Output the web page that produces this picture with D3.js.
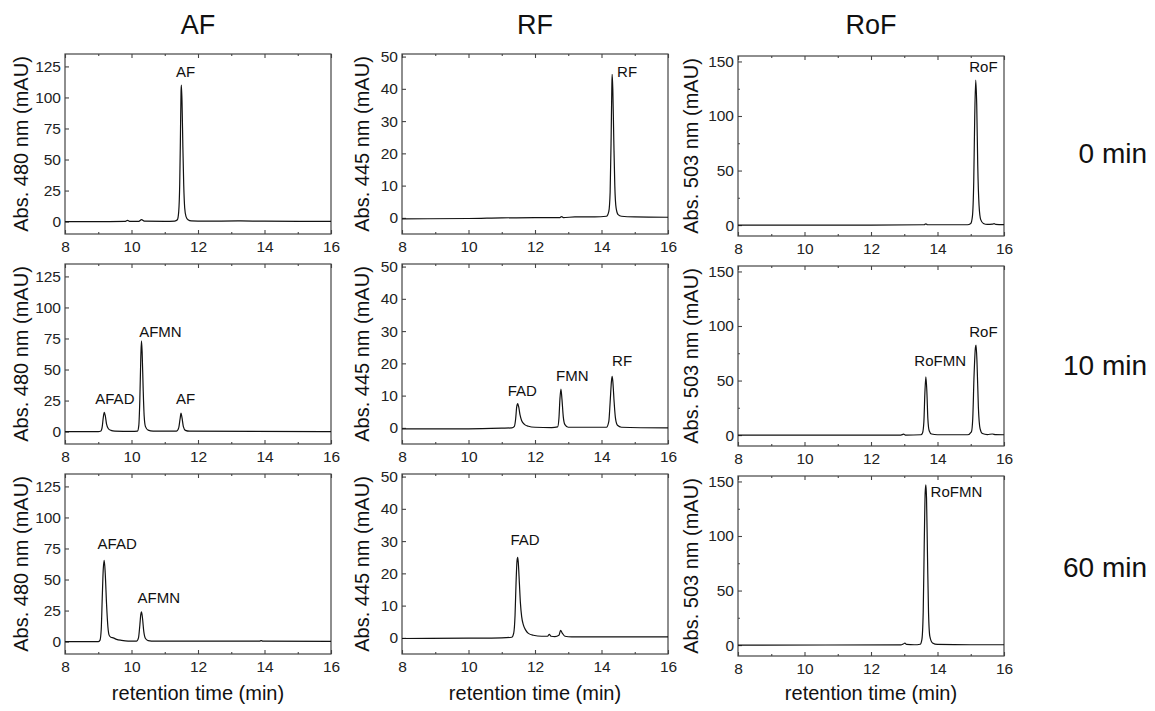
<!DOCTYPE html>
<meta charset="utf-8">
<style>
  body { margin: 0; background: #fff; }
  text { font-family: "Liberation Sans", Arial, sans-serif; fill: #111; }
  .tick line { stroke: #444; stroke-width: 1.1; }
  .tick text { font-size: 15.5px; fill: #222; }
</style>
<body>
<div id="chart"></div>
<script src="https://d3js.org/d3.v7.min.js"></script>
<script>
// column titles, row titles, y-axis titles
const columns = ["AF", "RF", "RoF"];
const rows = ["0 min", "10 min", "60 min"];
const yTitles = ["Abs. 480 nm (mAU)", "Abs. 445 nm (mAU)", "Abs. 503 nm (mAU)"];

// ticks
const xTicks = [8, 10, 12, 14, 16];
const xMinorTicks = [9, 11, 13, 15];
const afYTicks = [0, 25, 50, 75, 100, 125];
const rfYTicks = [0, 10, 20, 30, 40, 50];
const rofYTicks = [0, 50, 100, 150];
const rofYMinorTicks = [25, 75, 125];

// traces: [retention time (min), absorbance (mAU)]
const afTrace0 = [[8,0],[9,0],[9.8,0.1],[9.88,0.9],[9.96,0.1],[10.22,0.2],[10.3,1.6],[10.4,0.3],[11,0.2],[11.3,0.4],[11.38,1.5],[11.42,8],[11.45,30],[11.47,65],[11.49,105],[11.5,110],[11.52,96],[11.545,60],[11.57,30],[11.6,11],[11.64,4],[11.7,1.5],[11.8,0.6],[12.2,0.4],[13.2,0.5],[14,0.3],[16,0.2]];
const afTrace1 = [[8,0],[9,0],[9.08,0.5],[9.12,4],[9.15,11],[9.18,15.5],[9.21,13],[9.25,6],[9.3,2.5],[9.38,1],[9.5,0.4],[10,0.2],[10.18,0.4],[10.22,5],[10.25,25],[10.28,60],[10.3,73],[10.32,64],[10.35,35],[10.38,13],[10.42,4],[10.5,1.2],[10.65,0.4],[11.35,0.3],[11.42,3],[11.46,10],[11.49,14.8],[11.52,11],[11.56,4],[11.62,1],[11.75,0.3],[16,0]];
const afTrace2 = [[8,0],[9,0],[9.05,1],[9.09,10],[9.12,35],[9.15,58],[9.18,65.5],[9.21,55],[9.25,30],[9.29,12],[9.33,5],[9.38,3.5],[9.45,3],[9.55,1.8],[9.7,1],[9.9,0.4],[10.15,0.3],[10.21,3],[10.25,13],[10.28,22],[10.3,24],[10.33,19],[10.37,8],[10.42,2.5],[10.5,0.8],[10.7,0.3],[13.85,0.4],[13.9,0.8],[13.95,0.4],[16,0.2]];
const rfTrace0 = [[8,-0.3],[10,-0.2],[11,0],[12,0.1],[12.75,0.1],[12.8,0.4],[12.85,0.1],[13.2,0.3],[13.8,0.3],[14.15,0.5],[14.22,2],[14.26,8],[14.29,25],[14.31,40],[14.32,44.5],[14.34,40],[14.37,24],[14.4,10],[14.44,3],[14.5,1],[14.6,0.5],[15,0.3],[16,0.2]];
const rfTrace1 = [[8,-0.3],[10,-0.3],[11,-0.1],[11.3,0],[11.38,0.5],[11.42,3],[11.45,6.5],[11.48,7.5],[11.51,6.5],[11.55,4],[11.6,2.2],[11.68,1.1],[11.8,0.5],[12,0.2],[12.5,0.1],[12.68,0.3],[12.72,3],[12.75,9],[12.78,12],[12.81,9],[12.85,3.5],[12.9,1],[13,0.2],[14.15,0.2],[14.22,2],[14.26,8],[14.3,14.5],[14.32,16],[14.34,14.5],[14.38,8],[14.42,3],[14.48,0.8],[14.6,0.2],[16,0]];
const rfTrace2 = [[8,-0.2],[10,-0.1],[11,0],[11.3,0.2],[11.36,1.5],[11.4,7],[11.43,17],[11.46,24],[11.48,25],[11.5,23],[11.53,17],[11.56,11],[11.6,6.5],[11.65,4],[11.72,2.4],[11.8,1.4],[11.95,0.8],[12.2,0.5],[12.38,0.5],[12.43,1.1],[12.48,0.5],[12.6,0.4],[12.72,0.8],[12.77,2.3],[12.82,1.5],[12.9,0.5],[13.1,0.3],[16,0.3]];
const rofTrace0 = [[8,0],[12,0],[13.6,0.3],[13.65,1.2],[13.7,0.3],[14.9,0.3],[15,1.5],[15.05,8],[15.09,40],[15.12,100],[15.15,133],[15.18,110],[15.21,55],[15.25,18],[15.3,5],[15.38,1.5],[15.5,0.6],[15.65,0.8],[15.7,1.3],[15.75,0.6],[16,0.4]];
const rofTrace1 = [[8,0],[12.9,0],[12.98,0.8],[13.05,0],[13.5,0.3],[13.55,2],[13.59,12],[13.62,38],[13.65,53.5],[13.68,40],[13.71,15],[13.75,4],[13.82,1],[14,0.3],[14.9,0.3],[15.02,3],[15.06,15],[15.1,55],[15.14,80],[15.16,82.5],[15.19,65],[15.23,25],[15.28,6],[15.35,1.5],[15.5,0.5],[15.65,1],[15.75,0.4],[16,0.3]];
const rofTrace2 = [[8,0],[12.9,0.2],[12.97,1],[13.02,1.8],[13.07,0.6],[13.3,0.3],[13.48,0.8],[13.53,5],[13.57,30],[13.6,90],[13.63,140],[13.65,147],[13.67,135],[13.7,80],[13.73,30],[13.77,8],[13.85,2],[14,0.6],[15,0.3],[16,0.3]];

// peak labels: [text, time at label centre, absorbance at label baseline]
const afLabels0 = [["AF", 11.63, 116.8]];
const afLabels1 = [["AFAD", 9.5, 22.2], ["AFMN", 10.87, 76.5], ["AF", 11.63, 22.2]];
const afLabels2 = [["AFAD", 9.57, 74.6], ["AFMN", 10.82, 30.9]];
const rfLabels0 = [["RF", 14.77, 43.7]];
const rfLabels1 = [["FAD", 11.62, 9.9], ["FMN", 13.12, 14.5], ["RF", 14.62, 19.1]];
const rfLabels2 = [["FAD", 11.7, 28.9]];
const rofLabels0 = [["RoF", 15.38, 140.6]];
const rofLabels1 = [["RoFMN", 14.08, 63.3], ["RoF", 15.38, 90.2]];
const rofLabels2 = [["RoFMN", 14.57, 136.1]];

const panels = [
  { domain: [-10, 135], ticks: afYTicks, minor: [], traces: [afTrace0, afTrace1, afTrace2], labels: [afLabels0, afLabels1, afLabels2] },
  { domain: [-5, 50.8], ticks: rfYTicks, minor: [], traces: [rfTrace0, rfTrace1, rfTrace2], labels: [rfLabels0, rfLabels1, rfLabels2] },
  { domain: [-10, 155], ticks: rofYTicks, minor: rofYMinorTicks, traces: [rofTrace0, rofTrace1, rofTrace2], labels: [rofLabels0, rofLabels1, rofLabels2] }
];

const width = 1155, height = 711;
const colLeft = [65, 402, 738], colShift = [0, 0, 2], yTitleOff = [37, 33, 40];
const rowTop = [54, 264, 474], rowLabelY = [163, 375, 577];
const pw = 266, ph = 180;

const svg = d3.select("#chart").append("svg")
    .attr("width", width)
    .attr("height", height);

const x = d3.scaleLinear().domain([8, 16]).range([0, pw]);

const line = d3.line()
    .x(d => x(d[0]))
    .curve(d3.curveMonotoneX);

columns.forEach((c, ci) => {
  svg.append("text")
      .attr("x", colLeft[ci] + pw / 2)
      .attr("y", 34)
      .attr("text-anchor", "middle")
      .style("font-size", "27px")
      .text(c);

  svg.append("text")
      .attr("x", colLeft[ci] + pw / 2)
      .attr("y", 700)
      .attr("text-anchor", "middle")
      .style("font-size", "20px")
      .text("retention time (min)");
});

rows.forEach((r, ri) => {
  svg.append("text")
      .attr("x", 1147)
      .attr("y", rowLabelY[ri])
      .attr("text-anchor", "end")
      .style("font-size", "28px")
      .text(r);
});

panels.forEach((p, ci) => {
  const y = d3.scaleLinear().domain(p.domain).range([ph, 0]);
  line.y(d => y(d[1]));

  rows.forEach((r, ri) => {
    const top = rowTop[ri] + colShift[ci];
    const g = svg.append("g").attr("transform", `translate(${colLeft[ci]},${top})`);

    const clipId = `clip${ci}${ri}`;
    g.append("clipPath").attr("id", clipId)
      .append("rect").attr("width", pw).attr("height", ph);

    g.append("g")
        .attr("transform", `translate(0,${ph})`)
        .call(d3.axisBottom(x).tickValues(xTicks).tickSize(-4).tickPadding(7))
        .call(a => a.select(".domain").remove());
    g.append("g")
        .attr("transform", `translate(0,${ph})`)
        .call(d3.axisBottom(x).tickValues(xMinorTicks).tickSize(-2).tickFormat(""))
        .call(a => a.select(".domain").remove());
    g.append("g")
        .call(d3.axisTop(x).tickValues(xTicks).tickSize(-4).tickFormat(""))
        .call(a => a.select(".domain").remove());
    g.append("g")
        .call(d3.axisTop(x).tickValues(xMinorTicks).tickSize(-2).tickFormat(""))
        .call(a => a.select(".domain").remove());
    g.append("g")
        .call(d3.axisLeft(y).tickValues(p.ticks).tickSize(-4).tickPadding(4))
        .call(a => a.select(".domain").remove());
    if (p.minor.length) {
      g.append("g")
          .call(d3.axisLeft(y).tickValues(p.minor).tickSize(-2).tickFormat(""))
          .call(a => a.select(".domain").remove());
    }

    g.append("rect")
        .attr("width", pw)
        .attr("height", ph)
        .attr("fill", "none")
        .attr("stroke", "#444")
        .attr("stroke-width", 1.2);

    g.append("path")
        .datum(p.traces[ri])
        .attr("clip-path", `url(#${clipId})`)
        .attr("fill", "none")
        .attr("stroke", "#111")
        .attr("stroke-width", 1.2)
        .attr("stroke-linejoin", "round")
        .attr("d", line);

    g.selectAll(".peak")
      .data(p.labels[ri])
      .enter().append("text")
        .attr("class", "peak")
        .attr("x", d => x(d[1]))
        .attr("y", d => y(d[2]))
        .attr("text-anchor", "middle")
        .style("font-size", "15px")
        .text(d => d[0]);

    svg.append("text")
        .attr("transform", `translate(${colLeft[ci] - yTitleOff[ci]},${top + ph / 2}) rotate(-90)`)
        .attr("text-anchor", "middle")
        .style("font-size", "20px")
        .text(yTitles[ci]);
  });
});
</script>
</body>
</html>
